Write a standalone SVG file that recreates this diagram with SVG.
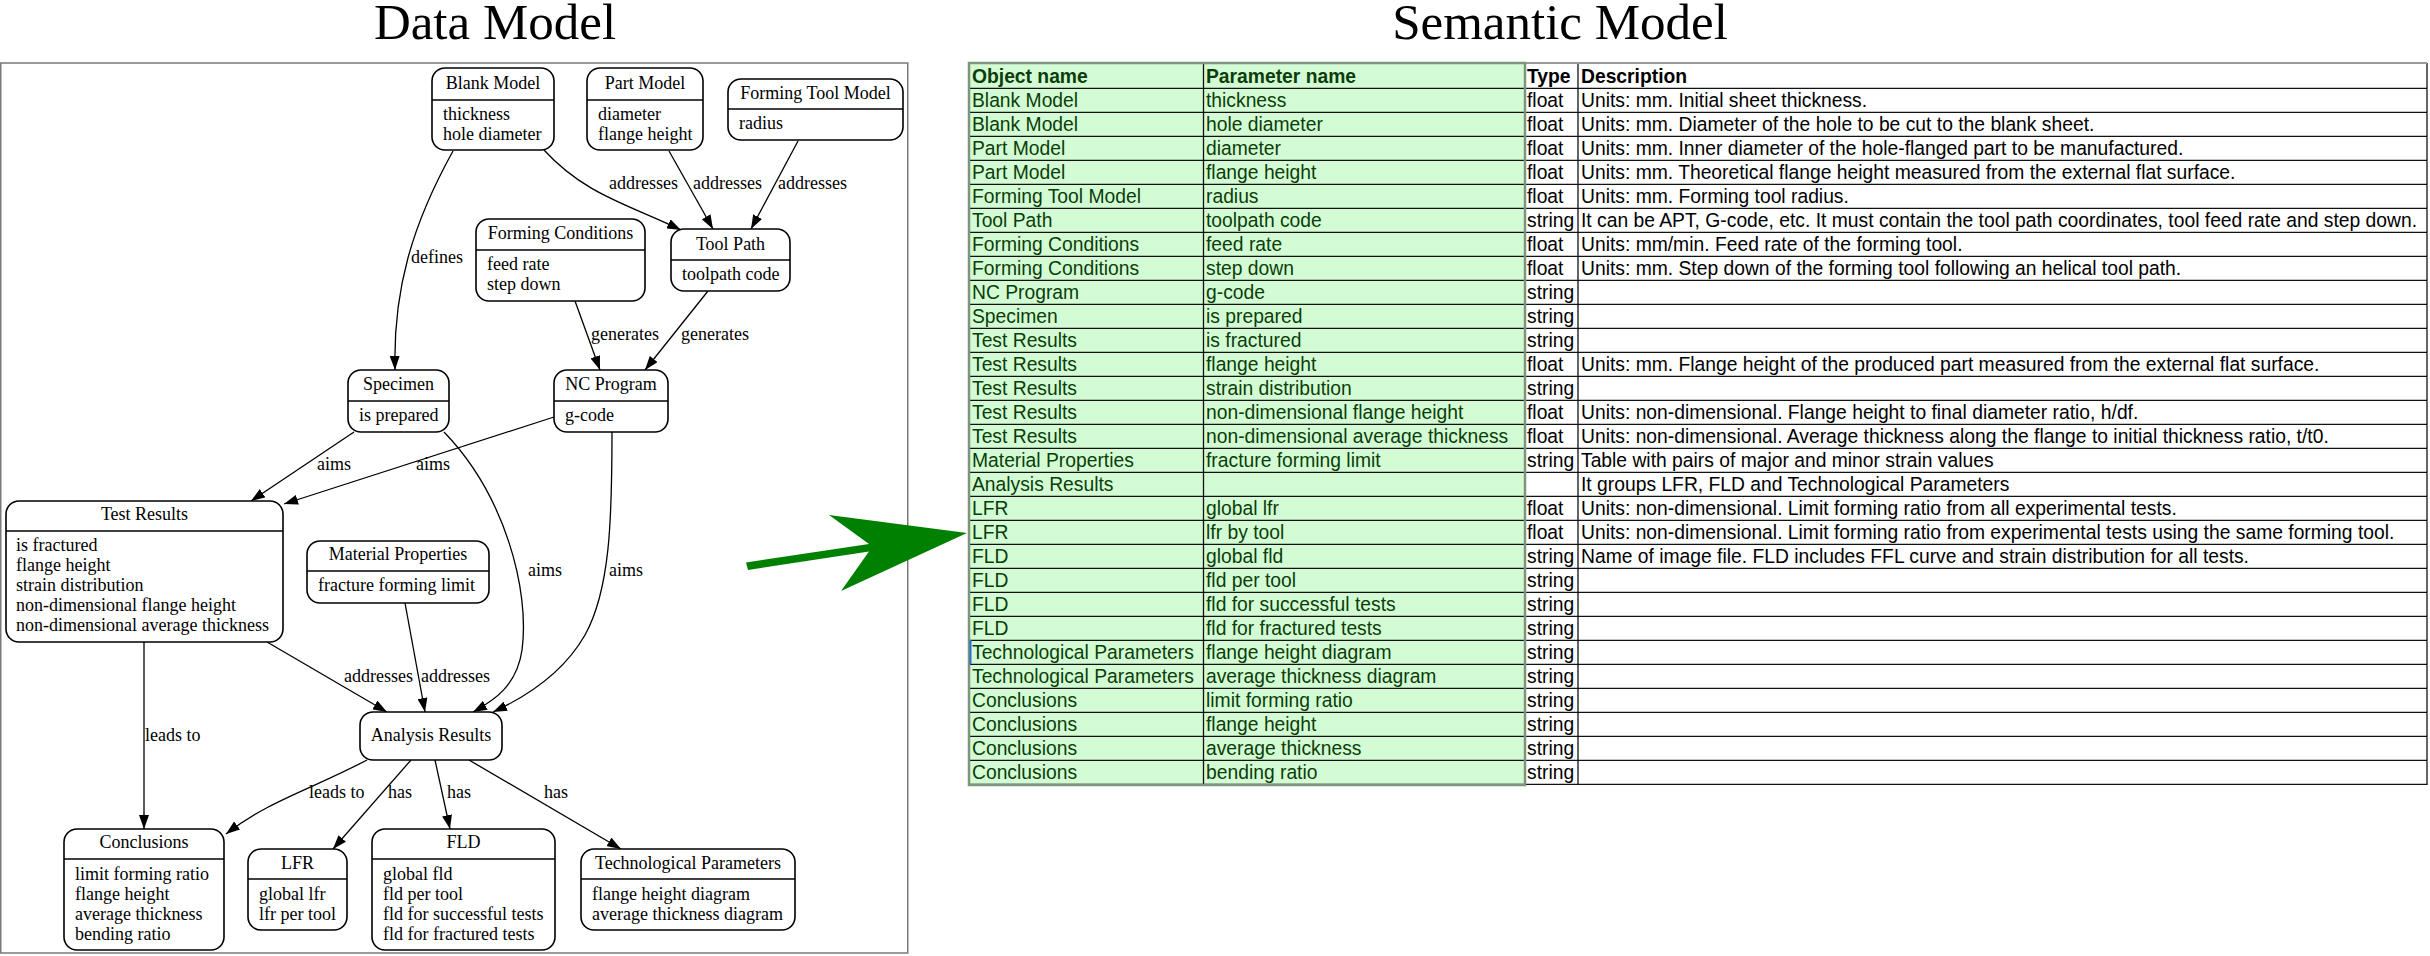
<svg xmlns="http://www.w3.org/2000/svg" width="2430" height="956" viewBox="0 0 2430 956">
<defs>
<style>
.title{font-family:"Liberation Serif","Times New Roman",serif;font-size:51px;fill:#000}
.nd rect{fill:#fff;stroke:#000;stroke-width:1.6}
.nd line{stroke:#000;stroke-width:1.6}
.t{font-family:"Liberation Serif","Times New Roman",serif;font-size:18px;fill:#000}
.c{text-anchor:middle}
.e path{fill:none;stroke:#000;stroke-width:1.3;marker-end:url(#ah)}
.lbl{font-family:"Liberation Serif","Times New Roman",serif;font-size:18px;fill:#000}
.cell{font-family:"Liberation Sans",Arial,sans-serif;font-size:19.3px}
.g{fill:#0a3d0a}
.k{fill:#000}
.b{font-weight:bold}
.hl{stroke:#111;stroke-width:1.3}
</style>
<marker id="ah" markerUnits="userSpaceOnUse" markerWidth="14" markerHeight="10" refX="14" refY="5" orient="auto" viewBox="0 0 14 10">
<path d="M0,0 L14,5 L0,10 z" fill="#000"/>
</marker>
</defs>
<rect x="0" y="0" width="2430" height="956" fill="#fff"/>
<text class="title c" x="495" y="39">Data Model</text>
<text class="title c" x="1560" y="39">Semantic Model</text>
<rect x="0.75" y="63" width="907" height="890" fill="none" stroke="#7a7a7a" stroke-width="1.5"/>

<g id="connectors" class="e">
<path d="M453,151 C412,225 393,290 395,370"/>
<path d="M544,150 C585,195 630,205 681,230"/>
<path d="M669,151 L713,229"/>
<path d="M798,141 L751,229"/>
<path d="M575,301 L600,370"/>
<path d="M708,291 L645,370"/>
<path d="M354,432 L251,501"/>
<path d="M554,417 L284,504"/>
<path d="M444,432 C505,495 530,590 522,650 C517,685 495,700 473,712"/>
<path d="M612,432 C612,520 610,590 585,635 C565,670 530,695 493,712"/>
<path d="M267,642 L387,712"/>
<path d="M405,603 L425,712"/>
<path d="M144,642 L144,829"/>
<path d="M367,760 C310,790 270,800 226,834"/>
<path d="M411,760 L333,849"/>
<path d="M435,760 L450,829"/>
<path d="M469,760 L621,849"/>
</g>
<g id="edge-labels">
<text class="lbl" x="411" y="263">defines</text>
<text class="lbl" x="609" y="189">addresses</text>
<text class="lbl" x="693" y="189">addresses</text>
<text class="lbl" x="778" y="189">addresses</text>
<text class="lbl" x="591" y="340">generates</text>
<text class="lbl" x="681" y="340">generates</text>
<text class="lbl" x="317" y="470">aims</text>
<text class="lbl" x="416" y="470">aims</text>
<text class="lbl" x="528" y="576">aims</text>
<text class="lbl" x="609" y="576">aims</text>
<text class="lbl" x="344" y="682">addresses</text>
<text class="lbl" x="421" y="682">addresses</text>
<text class="lbl" x="145" y="741">leads to</text>
<text class="lbl" x="309" y="798">leads to</text>
<text class="lbl" x="388" y="798">has</text>
<text class="lbl" x="447" y="798">has</text>
<text class="lbl" x="544" y="798">has</text>
</g>

<g id="blank-model" class="nd">
<rect x="432" y="68" width="122" height="82" rx="13"/>
<line x1="432" y1="100" x2="554" y2="100"/>
<text class="t c" x="493" y="89">Blank Model</text>
<text class="t" x="443" y="120">thickness</text>
<text class="t" x="443" y="140">hole diameter</text>
</g>
<g id="part-model" class="nd">
<rect x="587" y="68" width="116" height="82" rx="13"/>
<line x1="587" y1="100" x2="703" y2="100"/>
<text class="t c" x="645" y="89">Part Model</text>
<text class="t" x="598" y="120">diameter</text>
<text class="t" x="598" y="140">flange height</text>
</g>
<g id="forming-tool-model" class="nd">
<rect x="728" y="79" width="175" height="61" rx="13"/>
<line x1="728" y1="109" x2="903" y2="109"/>
<text class="t c" x="815.5" y="99">Forming Tool Model</text>
<text class="t" x="739" y="129">radius</text>
</g>
<g id="forming-conditions" class="nd">
<rect x="476" y="219" width="169" height="82" rx="13"/>
<line x1="476" y1="250" x2="645" y2="250"/>
<text class="t c" x="560.5" y="239">Forming Conditions</text>
<text class="t" x="487" y="270">feed rate</text>
<text class="t" x="487" y="290">step down</text>
</g>
<g id="tool-path" class="nd">
<rect x="671" y="229" width="119" height="62" rx="13"/>
<line x1="671" y1="260" x2="790" y2="260"/>
<text class="t c" x="730.5" y="250">Tool Path</text>
<text class="t" x="682" y="280">toolpath code</text>
</g>
<g id="specimen" class="nd">
<rect x="348" y="370" width="101" height="62" rx="13"/>
<line x1="348" y1="401" x2="449" y2="401"/>
<text class="t c" x="398.5" y="390">Specimen</text>
<text class="t" x="359" y="421">is prepared</text>
</g>
<g id="nc-program" class="nd">
<rect x="554" y="370" width="114" height="62" rx="13"/>
<line x1="554" y1="401" x2="668" y2="401"/>
<text class="t c" x="611" y="390">NC Program</text>
<text class="t" x="565" y="421">g-code</text>
</g>
<g id="test-results" class="nd">
<rect x="6" y="501" width="277" height="141" rx="13"/>
<line x1="6" y1="531" x2="283" y2="531"/>
<text class="t c" x="144.5" y="520">Test Results</text>
<text class="t" x="16" y="551">is fractured</text>
<text class="t" x="16" y="571">flange height</text>
<text class="t" x="16" y="591">strain distribution</text>
<text class="t" x="16" y="611">non-dimensional flange height</text>
<text class="t" x="16" y="631">non-dimensional average thickness</text>
</g>
<g id="material-properties" class="nd">
<rect x="307" y="541" width="182" height="62" rx="13"/>
<line x1="307" y1="571" x2="489" y2="571"/>
<text class="t c" x="398" y="560">Material Properties</text>
<text class="t" x="318" y="591">fracture forming limit</text>
</g>
<g id="analysis-results" class="nd">
<rect x="360" y="712" width="142" height="48" rx="13"/>
<text class="t c" x="431" y="741">Analysis Results</text>
</g>
<g id="conclusions" class="nd">
<rect x="64" y="829" width="160" height="121" rx="13"/>
<line x1="64" y1="859" x2="224" y2="859"/>
<text class="t c" x="144" y="848">Conclusions</text>
<text class="t" x="75" y="880">limit forming ratio</text>
<text class="t" x="75" y="900">flange height</text>
<text class="t" x="75" y="920">average thickness</text>
<text class="t" x="75" y="940">bending ratio</text>
</g>
<g id="lfr" class="nd">
<rect x="248" y="849" width="99" height="81" rx="13"/>
<line x1="248" y1="879" x2="347" y2="879"/>
<text class="t c" x="297.5" y="869">LFR</text>
<text class="t" x="259" y="900">global lfr</text>
<text class="t" x="259" y="920">lfr per tool</text>
</g>
<g id="fld" class="nd">
<rect x="372" y="829" width="183" height="121" rx="13"/>
<line x1="372" y1="859" x2="555" y2="859"/>
<text class="t c" x="463.5" y="848">FLD</text>
<text class="t" x="383" y="880">global fld</text>
<text class="t" x="383" y="900">fld per tool</text>
<text class="t" x="383" y="920">fld for successful tests</text>
<text class="t" x="383" y="940">fld for fractured tests</text>
</g>
<g id="technological-parameters" class="nd">
<rect x="581" y="849" width="214" height="81" rx="13"/>
<line x1="581" y1="879" x2="795" y2="879"/>
<text class="t c" x="688" y="869">Technological Parameters</text>
<text class="t" x="592" y="900">flange height diagram</text>
<text class="t" x="592" y="920">average thickness diagram</text>
</g>

<g id="big-arrow">
<polygon points="746,562.5 869,544 829,515 967,533 841,591 869,551.5 748,570" fill="#008000"/>
</g>

<g id="semantic-table">
<rect x="969" y="63" width="556" height="722" fill="#d4fcd4"/>
<g class="hl">
<line x1="969" y1="88.3" x2="2427" y2="88.3"/>
<line x1="969" y1="112.3" x2="2427" y2="112.3"/>
<line x1="969" y1="136.3" x2="2427" y2="136.3"/>
<line x1="969" y1="160.3" x2="2427" y2="160.3"/>
<line x1="969" y1="184.3" x2="2427" y2="184.3"/>
<line x1="969" y1="208.3" x2="2427" y2="208.3"/>
<line x1="969" y1="232.3" x2="2427" y2="232.3"/>
<line x1="969" y1="256.3" x2="2427" y2="256.3"/>
<line x1="969" y1="280.3" x2="2427" y2="280.3"/>
<line x1="969" y1="304.3" x2="2427" y2="304.3"/>
<line x1="969" y1="328.3" x2="2427" y2="328.3"/>
<line x1="969" y1="352.3" x2="2427" y2="352.3"/>
<line x1="969" y1="376.3" x2="2427" y2="376.3"/>
<line x1="969" y1="400.3" x2="2427" y2="400.3"/>
<line x1="969" y1="424.3" x2="2427" y2="424.3"/>
<line x1="969" y1="448.3" x2="2427" y2="448.3"/>
<line x1="969" y1="472.3" x2="2427" y2="472.3"/>
<line x1="969" y1="496.3" x2="2427" y2="496.3"/>
<line x1="969" y1="520.3" x2="2427" y2="520.3"/>
<line x1="969" y1="544.3" x2="2427" y2="544.3"/>
<line x1="969" y1="568.3" x2="2427" y2="568.3"/>
<line x1="969" y1="592.3" x2="2427" y2="592.3"/>
<line x1="969" y1="616.3" x2="2427" y2="616.3"/>
<line x1="969" y1="640.3" x2="2427" y2="640.3"/>
<line x1="969" y1="664.3" x2="2427" y2="664.3"/>
<line x1="969" y1="688.3" x2="2427" y2="688.3"/>
<line x1="969" y1="712.3" x2="2427" y2="712.3"/>
<line x1="969" y1="736.3" x2="2427" y2="736.3"/>
<line x1="969" y1="760.3" x2="2427" y2="760.3"/>
<line x1="969" y1="784.3" x2="2427" y2="784.3"/>
<line x1="1203.5" y1="63" x2="1203.5" y2="785"/>
<line x1="1578" y1="63" x2="1578" y2="785"/>
<line x1="2427" y1="63" x2="2427" y2="785"/>
</g>
<line x1="969" y1="63" x2="2427" y2="63" stroke="#9a9a9a" stroke-width="2"/>
<rect x="969" y="63" width="556" height="722" fill="none" stroke="#7d957d" stroke-width="2.5"/>
<line x1="970.5" y1="640" x2="970.5" y2="664" stroke="#2a6fd0" stroke-width="2"/>

<g class="cell">
<text class="g b" x="972" y="83.3">Object name</text>
<text class="g b" x="1206" y="83.3">Parameter name</text>
<text class="k b" x="1527" y="83.3">Type</text>
<text class="k b" x="1581" y="83.3">Description</text>

<text class="g" x="972" y="107.3">Blank Model</text><text class="g" x="1206" y="107.3">thickness</text><text class="k" x="1527" y="107.3">float</text><text class="k" x="1581" y="107.3">Units: mm. Initial sheet thickness.</text>
<text class="g" x="972" y="131.3">Blank Model</text><text class="g" x="1206" y="131.3">hole diameter</text><text class="k" x="1527" y="131.3">float</text><text class="k" x="1581" y="131.3">Units: mm. Diameter of the hole to be cut to the blank sheet.</text>
<text class="g" x="972" y="155.3">Part Model</text><text class="g" x="1206" y="155.3">diameter</text><text class="k" x="1527" y="155.3">float</text><text class="k" x="1581" y="155.3">Units: mm. Inner diameter of the hole-flanged part to be manufactured.</text>
<text class="g" x="972" y="179.3">Part Model</text><text class="g" x="1206" y="179.3">flange height</text><text class="k" x="1527" y="179.3">float</text><text class="k" x="1581" y="179.3">Units: mm. Theoretical flange height measured from the external flat surface.</text>
<text class="g" x="972" y="203.3">Forming Tool Model</text><text class="g" x="1206" y="203.3">radius</text><text class="k" x="1527" y="203.3">float</text><text class="k" x="1581" y="203.3">Units: mm. Forming tool radius.</text>
<text class="g" x="972" y="227.3">Tool Path</text><text class="g" x="1206" y="227.3">toolpath code</text><text class="k" x="1527" y="227.3">string</text><text class="k" x="1581" y="227.3">It can be APT, G-code, etc. It must contain the tool path coordinates, tool feed rate and step down.</text>
<text class="g" x="972" y="251.3">Forming Conditions</text><text class="g" x="1206" y="251.3">feed rate</text><text class="k" x="1527" y="251.3">float</text><text class="k" x="1581" y="251.3">Units: mm/min. Feed rate of the forming tool.</text>
<text class="g" x="972" y="275.3">Forming Conditions</text><text class="g" x="1206" y="275.3">step down</text><text class="k" x="1527" y="275.3">float</text><text class="k" x="1581" y="275.3">Units: mm. Step down of the forming tool following an helical tool path.</text>
<text class="g" x="972" y="299.3">NC Program</text><text class="g" x="1206" y="299.3">g-code</text><text class="k" x="1527" y="299.3">string</text>
<text class="g" x="972" y="323.3">Specimen</text><text class="g" x="1206" y="323.3">is prepared</text><text class="k" x="1527" y="323.3">string</text>
<text class="g" x="972" y="347.3">Test Results</text><text class="g" x="1206" y="347.3">is fractured</text><text class="k" x="1527" y="347.3">string</text>
<text class="g" x="972" y="371.3">Test Results</text><text class="g" x="1206" y="371.3">flange height</text><text class="k" x="1527" y="371.3">float</text><text class="k" x="1581" y="371.3">Units: mm. Flange height of the produced part measured from the external flat surface.</text>
<text class="g" x="972" y="395.3">Test Results</text><text class="g" x="1206" y="395.3">strain distribution</text><text class="k" x="1527" y="395.3">string</text>
<text class="g" x="972" y="419.3">Test Results</text><text class="g" x="1206" y="419.3">non-dimensional flange height</text><text class="k" x="1527" y="419.3">float</text><text class="k" x="1581" y="419.3">Units: non-dimensional. Flange height to final diameter ratio, h/df.</text>
<text class="g" x="972" y="443.3">Test Results</text><text class="g" x="1206" y="443.3">non-dimensional average thickness</text><text class="k" x="1527" y="443.3">float</text><text class="k" x="1581" y="443.3">Units: non-dimensional. Average thickness along the flange to initial thickness ratio, t/t0.</text>
<text class="g" x="972" y="467.3">Material Properties</text><text class="g" x="1206" y="467.3">fracture forming limit</text><text class="k" x="1527" y="467.3">string</text><text class="k" x="1581" y="467.3">Table with pairs of major and minor strain values</text>
<text class="g" x="972" y="491.3">Analysis Results</text><text class="k" x="1581" y="491.3">It groups LFR, FLD and Technological Parameters</text>
<text class="g" x="972" y="515.3">LFR</text><text class="g" x="1206" y="515.3">global lfr</text><text class="k" x="1527" y="515.3">float</text><text class="k" x="1581" y="515.3">Units: non-dimensional. Limit forming ratio from all experimental tests.</text>
<text class="g" x="972" y="539.3">LFR</text><text class="g" x="1206" y="539.3">lfr by tool</text><text class="k" x="1527" y="539.3">float</text><text class="k" x="1581" y="539.3">Units: non-dimensional. Limit forming ratio from experimental tests using the same forming tool.</text>
<text class="g" x="972" y="563.3">FLD</text><text class="g" x="1206" y="563.3">global fld</text><text class="k" x="1527" y="563.3">string</text><text class="k" x="1581" y="563.3">Name of image file. FLD includes FFL curve and strain distribution for all tests.</text>
<text class="g" x="972" y="587.3">FLD</text><text class="g" x="1206" y="587.3">fld per tool</text><text class="k" x="1527" y="587.3">string</text>
<text class="g" x="972" y="611.3">FLD</text><text class="g" x="1206" y="611.3">fld for successful tests</text><text class="k" x="1527" y="611.3">string</text>
<text class="g" x="972" y="635.3">FLD</text><text class="g" x="1206" y="635.3">fld for fractured tests</text><text class="k" x="1527" y="635.3">string</text>
<text class="g" x="972" y="659.3">Technological Parameters</text><text class="g" x="1206" y="659.3">flange height diagram</text><text class="k" x="1527" y="659.3">string</text>
<text class="g" x="972" y="683.3">Technological Parameters</text><text class="g" x="1206" y="683.3">average thickness diagram</text><text class="k" x="1527" y="683.3">string</text>
<text class="g" x="972" y="707.3">Conclusions</text><text class="g" x="1206" y="707.3">limit forming ratio</text><text class="k" x="1527" y="707.3">string</text>
<text class="g" x="972" y="731.3">Conclusions</text><text class="g" x="1206" y="731.3">flange height</text><text class="k" x="1527" y="731.3">string</text>
<text class="g" x="972" y="755.3">Conclusions</text><text class="g" x="1206" y="755.3">average thickness</text><text class="k" x="1527" y="755.3">string</text>
<text class="g" x="972" y="779.3">Conclusions</text><text class="g" x="1206" y="779.3">bending ratio</text><text class="k" x="1527" y="779.3">string</text>
</g>
</g>
</svg>
